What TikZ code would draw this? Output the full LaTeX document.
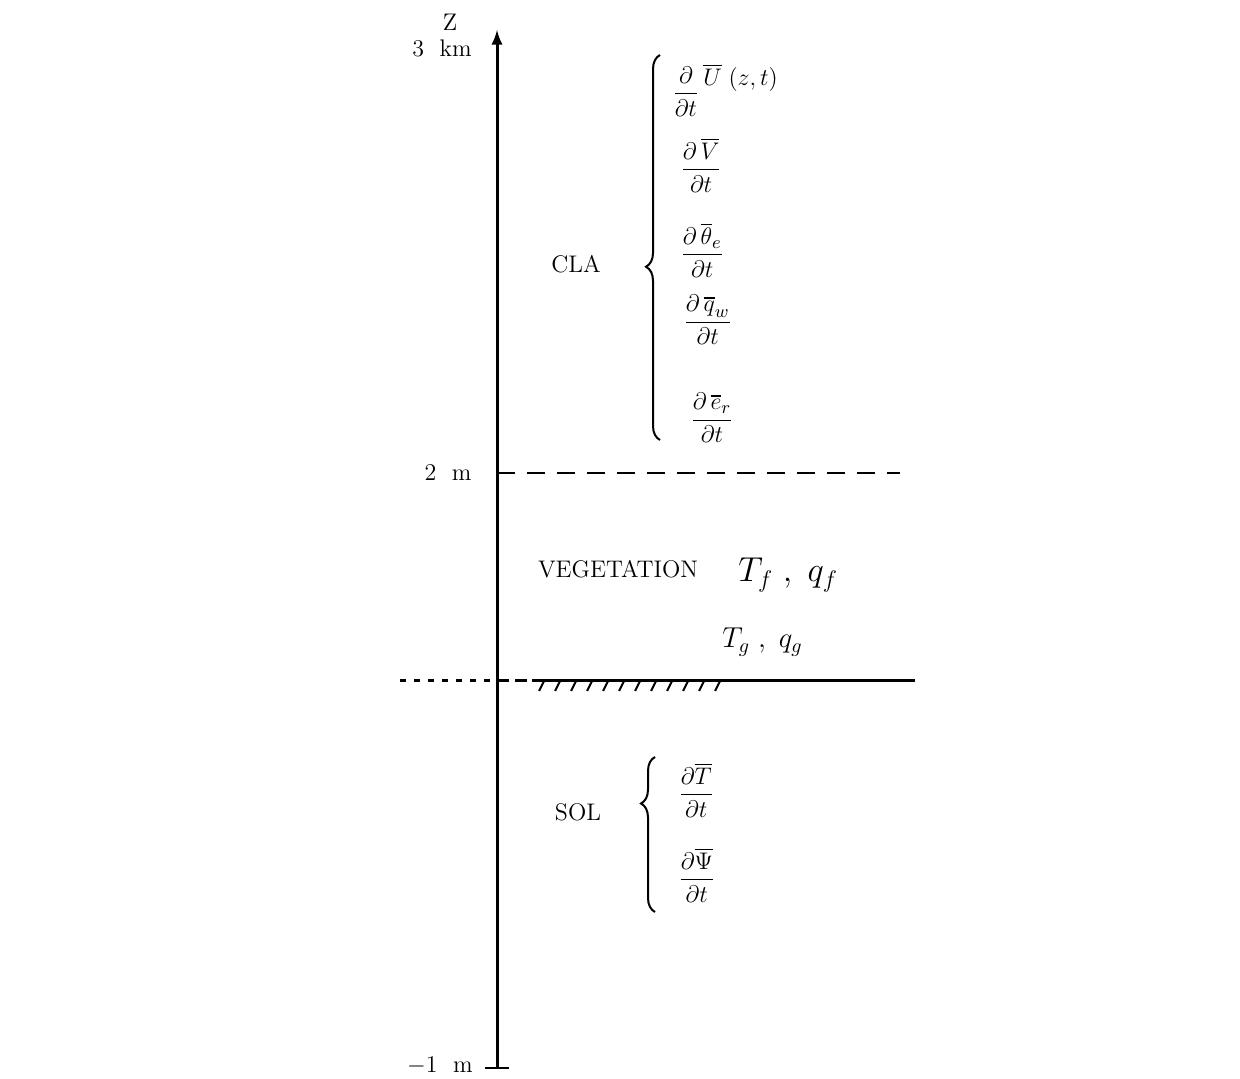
\documentclass[tikz,border=0pt]{standalone}
\usepackage{amsmath,amssymb}
\usetikzlibrary{positioning,calc,arrows,decorations.pathreplacing}

\begin{document}
\begin{tikzpicture}[x=0.5pt,y=-0.5pt,
	lab/.style={font=\fontsize{12}{14}\selectfont},
	eq/.style={font=\fontsize{13}{15}\selectfont,inner sep=0pt,anchor=west},
	accolade/.style={decorate,decoration={brace,amplitude=7pt},line width=1pt}]
		\useasboundingbox (0,0) rectangle (1240,1079);
		\coordinate (bas) at (497,1068);
		\coordinate (haut) at (497,30);
		\coordinate (deux) at (497,473);
		\coordinate (deuxfin) at (900,473);
		\coordinate (sol) at (497,680);
		\coordinate (solg) at (400,680);
		\coordinate (solm) at (532,680);
		\coordinate (sold) at (915,680);
		\draw[-latex,line width=1.5pt] (bas) -- (haut);
		\draw[line width=1.2pt] ($(bas)+(-12,0)$) -- ($(bas)+(12,0)$);
		\draw[line width=1.2pt,dash pattern=on 9pt off 6pt] (deux) -- (deuxfin);
		\draw[line width=1.5pt,dash pattern=on 3pt off 4pt] (solg) -- (sol);
		\draw[line width=1.5pt,dash pattern=on 6pt off 3pt] (sol) -- (solm);
		\draw[line width=1.5pt] (solm) -- (sold);
		\foreach \x in {544,560,...,720}
			\draw[line width=1pt] (\x,681) -- ++(-5,10);
		\node[lab] (z) at (450,22) {Z};
		\node[lab] (km) at (442,48) {3~~km};
		\node[lab] (m2) at (448,473) {2~~m};
		\node[lab] (m1) at (440,1066) {$-$1~~m};
		\node[lab] (cla) at (576,264) {CLA};
		\node[lab] (veg) at (618,569) {VEGETATION};
		\node[lab] (solab) at (578,812) {SOL};
		\draw[accolade,decoration={aspect=0.45}] (660,440) -- (660,55);
		\draw[accolade,decoration={aspect=0.7}] (655,912) -- (655,757);
		\node[eq] (du) at (672,90) {$\dfrac{\partial}{\partial t}\raisebox{1.3ex}{$\,\overline{U}\;(z,t)$}$};
		\node[eq] (dv) at (680,165) {$\dfrac{\partial\,\overline{V}}{\partial t}$};
		\node[eq] (dth) at (680,250) {$\dfrac{\partial\,\overline{\theta}_e}{\partial t}$};
		\node[eq] (dq) at (683,320) {$\dfrac{\partial\,\overline{q}_w}{\partial t}$};
		\node[eq] (de) at (690,418) {$\dfrac{\partial\,\overline{e}_r}{\partial t}$};
		\node[eq] (dt) at (678,790) {$\dfrac{\partial\overline{T}}{\partial t}$};
		\node[eq] (dpsi) at (678,875) {$\dfrac{\partial\overline{\Psi}}{\partial t}$};
		\node[eq,font=\fontsize{18}{20}\selectfont] (tf) at (738,575) {$T_f\;,\;q_f$};
		\node[eq,font=\fontsize{14}{16}\selectfont] (tg) at (722,642) {$T_g\;,\;q_g$};
	\end{tikzpicture}
\end{document}
